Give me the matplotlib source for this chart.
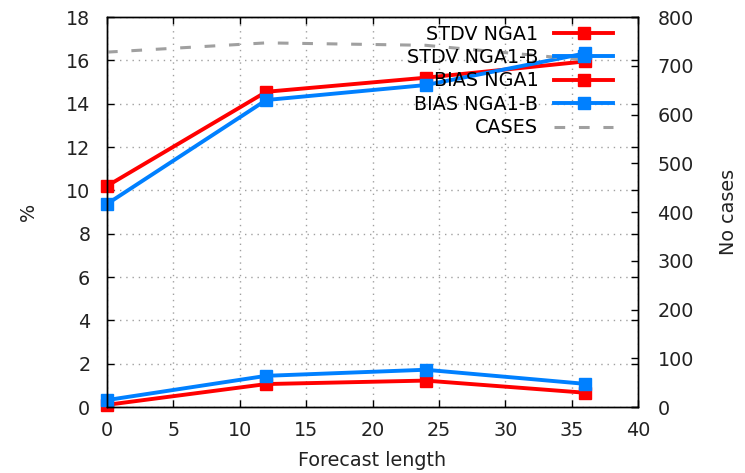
import matplotlib
matplotlib.use('Agg')
import matplotlib.pyplot as plt

# forecast lengths (h) and verification scores
lead = [0, 12, 24, 36]
stdv_nga1 = [10.2, 14.55, 15.2, 15.95]
stdv_nga1_b = [9.37, 14.17, 14.86, 16.32]
bias_nga1 = [0.1, 1.06, 1.22, 0.66]
bias_nga1_b = [0.32, 1.44, 1.72, 1.07]
cases = [728, 747, 742, 712]

RED = '#ff0000'
BLUE = '#0080ff'
GREY = '#a0a0a0'

plt.rcParams['font.family'] = 'DejaVu Sans'
plt.rcParams['font.size'] = 13.8

fig = plt.figure(figsize=(7.45, 4.73), dpi=100)
ax = fig.add_axes([0.1436, 0.1395, 0.7128, 0.8245])
ax2 = ax.twinx()

line_kw = dict(lw=2.8, marker='s', ms=8.5, clip_on=False)
h1, = ax.plot(lead, stdv_nga1, color=RED, label='STDV NGA1', **line_kw)
h2, = ax.plot(lead, stdv_nga1_b, color=BLUE, label='STDV NGA1-B', **line_kw)
h3, = ax.plot(lead, bias_nga1, color=RED, label='BIAS NGA1', **line_kw)
h4, = ax.plot(lead, bias_nga1_b, color=BLUE, label='BIAS NGA1-B', **line_kw)
h5, = ax2.plot(lead, cases, color=GREY, lw=2.2, dashes=(3.5, 4.5), label='CASES')

ax.set_xlim(0, 40)
ax.set_ylim(0, 18)
ax2.set_ylim(0, 800)
ax.set_xticks(range(0, 41, 5))
ax.set_yticks(range(0, 19, 2))
ax2.set_yticks(range(0, 801, 100))

ax.grid(True, color=GREY, lw=1.0, linestyle=(0, (1, 3.5)))
ax.tick_params(direction='in', length=5, width=1, top=True, right=True,
               colors='black', labelcolor='#222222')
ax.tick_params(axis='y', pad=12)
ax.tick_params(axis='x', pad=10)
ax2.tick_params(direction='in', length=5, width=1, pad=14, labelcolor='#222222')

for a in (ax, ax2):
    for s in a.spines.values():
        s.set_linewidth(1.0)

ax.set_xlabel('Forecast length', labelpad=8, color='#222222')
ax.set_ylabel('%', labelpad=20, color='#222222')
ax2.set_ylabel('No cases', labelpad=18, color='#222222')

ax2.legend(handles=[h1, h2, h3, h4, h5], loc='upper right', frameon=False,
           markerfirst=False, handlelength=3.1, handletextpad=0.82,
           labelspacing=0.23, borderaxespad=0.3, borderpad=0.4,
           bbox_to_anchor=(0.979, 1.015))

fig.savefig('out.png', dpi=100)
